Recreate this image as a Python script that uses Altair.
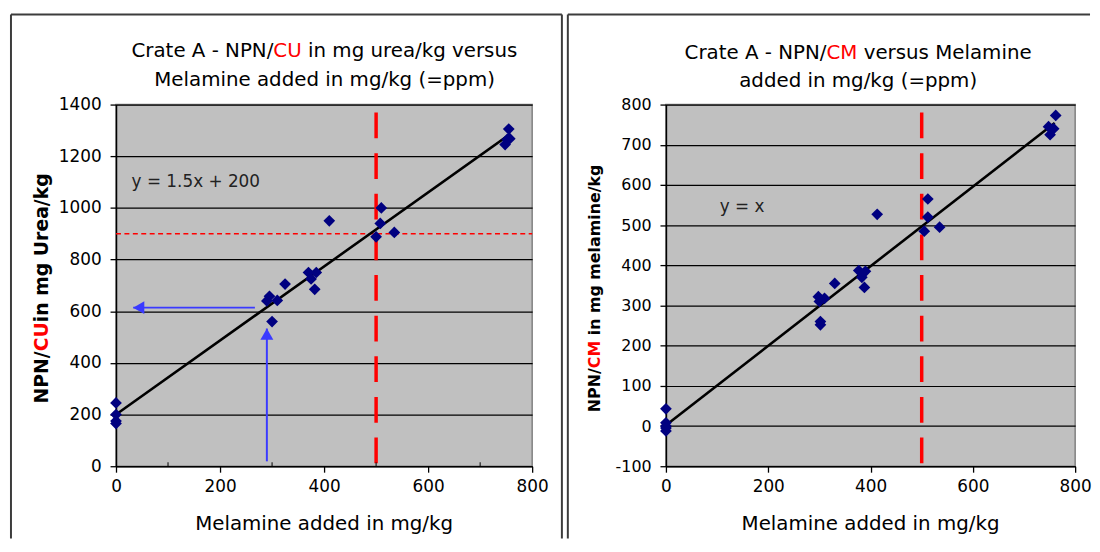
import altair as alt
import pandas as pd

FONT = "DejaVu Sans"

# ---------------- data ----------------
# Left panel: NPN/CU (mg urea/kg) vs melamine added (mg/kg)
cu_melamine = [0, 0, 0, 0, 290, 295, 310, 300, 325, 370, 375, 385, 382, 410,
               500, 508, 510, 535, 748, 752, 757, 755]
cu_npn = [245, 200, 175, 165, 640, 658, 642, 560, 705, 750, 725, 750, 685, 950,
          888, 940, 1000, 905, 1245, 1265, 1268, 1305]
cu_fit_x = [0, 757]
cu_fit_y = [200, 1285]

# Right panel: NPN/CM (mg melamine/kg) vs melamine added (mg/kg)
cm_melamine = [0, 0, 0, 0, 0, 298, 300, 310, 302, 302, 330, 377, 390, 383, 388,
               413, 505, 512, 512, 535, 748, 751, 758, 762]
cm_npn = [43, 8, 0, -5, -12, 322, 310, 318, 260, 252, 355, 387, 385, 370, 345,
          527, 485, 520, 565, 495, 745, 725, 740, 773]
cm_fit_x = [0, 760]
cm_fit_y = [2, 754]

limit_melamine = [500]
limit_cu = [900]

# blue reading arrows (left panel)
arrow_h_x = [267, 33]
arrow_h_y = [614, 614]
arrow_v_x = [290, 290]
arrow_v_y = [19, 533]

x_ticks = [0, 200, 400, 600, 800]
x_minor = [100, 300, 500, 700]
cu_ticks = [0, 200, 400, 600, 800, 1000, 1200, 1400]
cm_ticks = [-100, 0, 100, 200, 300, 400, 500, 600, 700, 800]

cu_eq = "y = 1.5x + 200"
cm_eq = "y = x"

RED = "#ff0000"
NAVY = "#000080"
BLUE = "#3a3aff"
FRAME = "#3c3c3c"

DUMMY = pd.DataFrame({"a": [0]})
PLAIN = "'' + datum.value"


def txt(s, x, y, size, color="black", align="center", weight="normal", angle=None):
    kw = dict(text=s, fontSize=size, font=FONT, color=color, align=align,
              baseline="middle", fontWeight=weight)
    if angle is not None:
        kw["angle"] = angle
    return alt.Chart(DUMMY).mark_text(**kw).encode(x=alt.value(x), y=alt.value(y))


def rule_px(x, x2, y, y2, color=FRAME, width=2):
    return alt.Chart(DUMMY).mark_rule(color=color, strokeWidth=width).encode(
        x=alt.value(x), x2=alt.value(x2), y=alt.value(y), y2=alt.value(y2))


def panel(W, H, mx, my, fx, fy, ydom, yticks, eq, eq_pos, ylab_size, ytick_size,
          title1, title2, tcenter, t1y, t2y, ylab, ylab_x, frame_left, frame_right,
          frame_bottom, with_right_edge, extra=None):
    xs = alt.Scale(domain=[0, 800], nice=False, zero=False)
    ys = alt.Scale(domain=ydom, nice=False, zero=False)
    xaxis = alt.Axis(values=x_ticks, title=None, grid=False, labelFlush=False,
                     tickSize=6, labelPadding=7, labelFontSize=17, labelExpr=PLAIN)
    yaxis = alt.Axis(values=yticks, title=None, grid=True, tickSize=6,
                     labelPadding=9, labelFontSize=ytick_size, labelExpr=PLAIN)

    def X(f):
        return alt.X(f, type="quantitative", scale=xs, axis=xaxis)

    def Y(f):
        return alt.Y(f, type="quantitative", scale=ys, axis=yaxis)

    pts = pd.DataFrame({"x": mx, "y": my})
    fit = pd.DataFrame({"x": fx, "y": fy})

    layers = []
    # frame
    layers.append(rule_px(frame_left, frame_left, -91, frame_bottom))
    layers.append(rule_px(frame_left, frame_right, -91, -91))
    if with_right_edge:
        layers.append(rule_px(frame_right, frame_right, -91, frame_bottom))

    # red limit line (vertical)
    layers.append(alt.Chart(pd.DataFrame({"x": limit_melamine})).mark_rule(
        color=RED, strokeWidth=3.5, strokeDash=[26, 15], strokeDashOffset=33).encode(
        x=X("x"), y=alt.value(0), y2=alt.value(H)))
    if extra is not None:
        layers.extend(extra(X, Y, W, H))
    # trend line
    layers.append(alt.Chart(fit).mark_line(color="black", strokeWidth=2.6).encode(
        x=X("x"), y=Y("y")))
    # points
    layers.append(alt.Chart(pts).mark_point(shape="diamond", filled=True, color=NAVY,
                                            size=140, opacity=1).encode(
        x=X("x"), y=Y("y")))
    # equation
    layers.append(alt.Chart(pd.DataFrame({"x": [eq_pos[0]], "y": [eq_pos[1]], "t": [eq]}))
                  .mark_text(font=FONT, fontSize=17, color="#222222", align="left",
                             baseline="middle")
                  .encode(x=X("x"), y=Y("y"), text="t:N"))
    # title line 1 (mixed colours)
    p1, red1, p3, anchor, wred = title1
    layers.append(txt(p1, anchor, t1y, 20, align="right"))
    layers.append(txt(red1, anchor, t1y, 20, color=RED, align="left"))
    layers.append(txt(p3, anchor + wred, t1y, 20, align="left"))
    layers.append(txt(title2, tcenter, t2y, 20))
    # y axis title (rotated, mixed colours)
    q1, qred, q3, qanchor, qwred = ylab
    layers.append(txt(q1, ylab_x, qanchor, ylab_size, align="right", weight="bold", angle=270))
    layers.append(txt(qred, ylab_x, qanchor, ylab_size, color=RED, align="left",
                      weight="bold", angle=270))
    layers.append(txt(q3, ylab_x, qanchor - qwred, ylab_size, align="left",
                      weight="bold", angle=270))
    # x axis title
    layers.append(txt("Melamine added in mg/kg", W / 2, H + 58, 20))

    return alt.layer(*layers).properties(width=W, height=H)


def left_extra(X, Y, W, H):
    out = []
    out.append(alt.Chart(pd.DataFrame({"y": limit_cu})).mark_rule(
        color=RED, strokeWidth=1.4, strokeDash=[5, 3.5]).encode(
        y=Y("y"), x=alt.value(0), x2=alt.value(W)))
    # minor x ticks
    out.append(alt.Chart(pd.DataFrame({"x": x_minor})).mark_rule(
        color="black", strokeWidth=1).encode(x=X("x"), y=alt.value(H - 4), y2=alt.value(H)))
    ah = pd.DataFrame({"x": arrow_h_x, "y": arrow_h_y})
    av = pd.DataFrame({"x": arrow_v_x, "y": arrow_v_y})
    out.append(alt.Chart(ah).mark_line(color=BLUE, strokeWidth=2).encode(x=X("x"), y=Y("y")))
    out.append(alt.Chart(av).mark_line(color=BLUE, strokeWidth=2).encode(x=X("x"), y=Y("y")))
    out.append(alt.Chart(ah.iloc[[1]]).mark_point(shape="triangle-left", filled=True, color=BLUE,
                                                  size=170, opacity=1, xOffset=5.6)
               .encode(x=X("x"), y=Y("y")))
    out.append(alt.Chart(av.iloc[[1]]).mark_point(shape="triangle-up", filled=True, color=BLUE,
                                                  size=170, opacity=1, yOffset=5.6)
               .encode(x=X("x"), y=Y("y")))
    return out


H = 365
left = panel(
    420, H, cu_melamine, cu_npn, cu_fit_x, cu_fit_y, [0, 1400], cu_ticks,
    cu_eq, (30, 1100), 19, 17,
    ("Crate A - NPN/", "CU", "in mg urea/kg versus", 158.8, 28.6 + 6.4),
    "Melamine added in mg/kg (=ppm)", 210.5, -54, -25,
    ("NPN/", "CU", "in mg Urea/kg", 249.0, 29.4), -75,
    -106, 450, 438, True, extra=left_extra)

right = panel(
    413, H, cm_melamine, cm_npn, cm_fit_x, cm_fit_y, [-100, 800], cm_ticks,
    cm_eq, (105, 546), 16, 16,
    ("Crate A - NPN/", "CM", "versus Melamine", 162.0, 31.2 + 6.4),
    "added in mg/kg (=ppm)", 194, -52, -24,
    ("NPN/", "CM", "in mg melamine/kg", 266.1, 27.7 + 5.6), -71.5,
    -99, 428, 438, False)

chart = (
    alt.hconcat(left, right, spacing=2)
    .properties(padding={"left": 1, "top": 2, "right": 0, "bottom": 0}, background="white")
    .configure_view(fill="#c0c0c0", stroke="#808080", strokeWidth=1.5)
    .configure_axis(labelFont=FONT, labelColor="black", domainColor="black",
                    domainWidth=1.5, tickColor="black", tickWidth=1.3,
                    gridColor="black", gridWidth=1.2)
)

chart.save("out.html", embed_options={"renderer": "svg", "actions": False})
